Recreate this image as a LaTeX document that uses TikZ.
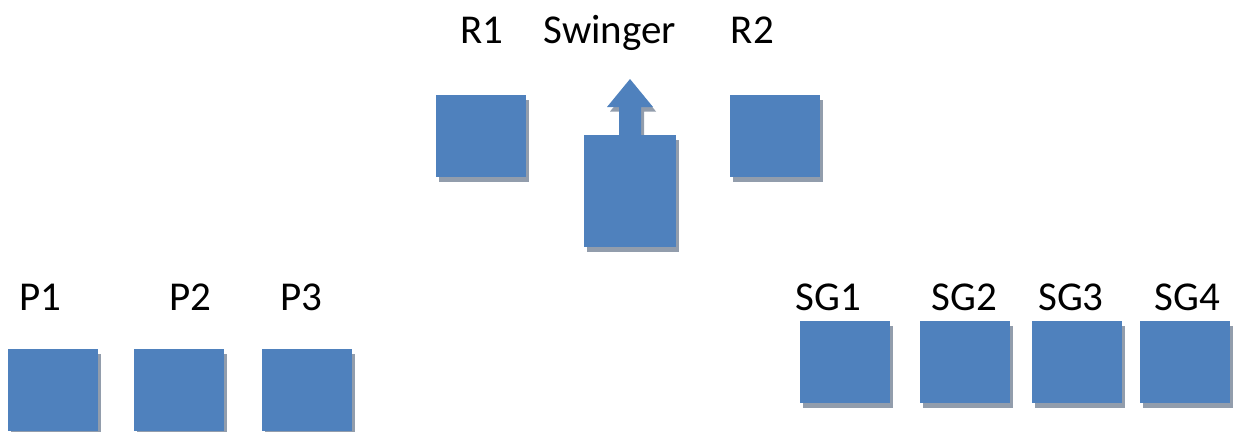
\documentclass[tikz,border=0pt]{standalone}
\usepackage{fontspec}
\setmainfont{Carlito}
\usetikzlibrary{shadows}
\definecolor{boxblue}{RGB}{79,129,189}
\definecolor{shadowgray}{RGB}{146,157,172}
\tikzset{
  myshadow/.style={drop shadow={shadow xshift=3pt, shadow yshift=-4.5pt, fill=shadowgray, opacity=1}},
  box/.style={rectangle, fill=boxblue, draw=none, inner sep=0pt, minimum width=90pt, minimum height=82pt, myshadow},
  lbl/.style={anchor=base, inner sep=0pt, font=\fontsize{41}{49}\selectfont}
}
\begin{document}
\begin{tikzpicture}[x=1pt,y=1pt]
\useasboundingbox (0,0) rectangle (1233,-431);
\clip (0,0) rectangle (1233,-431);
% labels
\node[lbl] (tR1) at (482,-43) {R1};
\node[lbl] (tSw) at (610,-43) {Swinger};
\node[lbl] (tR2) at (752.5,-43) {R2};
\node[lbl] (tP1) at (40,-310) {P1};
\node[lbl] (tP2) at (190,-310) {P2};
\node[lbl] (tP3) at (301.5,-310) {P3};
\node[lbl] (tSG1) at (828.5,-310) {SG1};
\node[lbl] (tSG2) at (964.5,-310) {SG2};
\node[lbl] (tSG3) at (1071,-310) {SG3};
\node[lbl] (tSG4) at (1187.5,-310) {SG4};
% top row
\node[box] (r1) at (481,-136) {};
\node[box] (r2) at (775,-136) {};
\fill[boxblue, myshadow] (619,-137) -- (619,-107) -- (607,-107) -- (630,-79) -- (653,-107) -- (641,-107) -- (641,-137) -- cycle;
\node[box, minimum width=92pt, minimum height=112pt] (sw) at (630,-191) {};
% bottom left
\node[box] (p1) at (53,-390) {};
\node[box] (p2) at (179,-390) {};
\node[box] (p3) at (307,-390) {};
% bottom right
\node[box] (sg1) at (845,-362) {};
\node[box] (sg2) at (965,-362) {};
\node[box] (sg3) at (1077,-362) {};
\node[box] (sg4) at (1185,-362) {};
\end{tikzpicture}
\end{document}
